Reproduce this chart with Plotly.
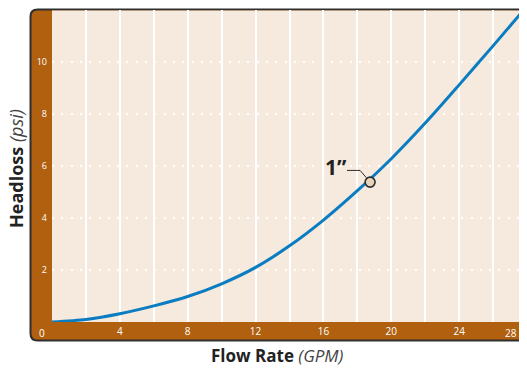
import plotly.graph_objects as go

# readings
flow_gpm = [0, 2, 4, 6, 8, 10, 12, 14, 16, 18, 20, 22, 24, 26, 28]
headloss_psi = [0, 0.1, 0.32, 0.62, 0.98, 1.47, 2.1, 2.93, 3.92, 5.05, 6.28, 7.65, 9.12, 10.62, 12.15]

pipe_label = "1\u201d"
pipe_point_x = [18.75]
pipe_point_y = [5.38]

x_ticks = [4, 8, 12, 16, 20, 24]
y_ticks = [2, 4, 6, 8, 10]

BROWN = "#B0600F"
BEIGE = "#F6E9DD"
BLUE = "#0A7CC2"
DARK = "#2E2E2E"

# the page body has an 8px margin on every side: shrink the figure so the
# page never scrolls, and lay everything out 8px up/left
OFF = 8
W, H = 527 - OFF, 373 - 2 * OFF
L, T = 52 - OFF, 10 - OFF
R = 0
B = H - (322 - OFF)
pw, ph = W - L - R, H - T - B


def px(x):
    # screen pixel -> paper x
    return (x - OFF - L) / pw


def py(y):
    # screen pixel -> paper y
    return (H - B - (y - OFF)) / ph


fig = go.Figure()

fig.add_trace(go.Scatter(
    x=flow_gpm, y=headloss_psi, mode="lines",
    line=dict(color=BLUE, width=3, shape="spline", smoothing=0.8),
    hoverinfo="skip", showlegend=False,
))

# leader from the label to the marker
lead_dx = [-1.36, -0.59, -0.22]
lead_dy = [0.45, 0.45, 0.17]
fig.add_trace(go.Scatter(
    x=[pipe_point_x[0] + d for d in lead_dx],
    y=[pipe_point_y[0] + d for d in lead_dy],
    mode="lines", line=dict(color=DARK, width=1),
    hoverinfo="skip", showlegend=False,
))

fig.add_trace(go.Scatter(
    x=pipe_point_x, y=pipe_point_y, mode="markers",
    marker=dict(size=10, color="#E8D2BA", line=dict(color=DARK, width=1.6)),
    hoverinfo="skip", showlegend=False,
))

# brown frame with rounded left corners
left, right = px(30.5), px(545)
top, bot = py(9.5), py(340.5)
rx, ry = 7 / pw, 7 / ph
frame = (f"M {right},{top} L {left + rx},{top} Q {left},{top} {left},{top - ry} "
         f"L {left},{bot + ry} Q {left},{bot} {left + rx},{bot} L {right},{bot} Z")
fig.add_shape(type="path", path=frame, xref="paper", yref="paper",
              fillcolor=BROWN, line=dict(color=DARK, width=2), layer="below")
fig.add_shape(type="rect", xref="paper", yref="paper", x0=0, x1=1.05, y0=0, y1=py(10.5),
              fillcolor=BEIGE, line=dict(width=0), layer="below")

tick_font = dict(family="Open Sans, sans-serif", size=10, color="white")

fig.update_xaxes(
    range=[0, 28], tickvals=x_ticks, ticks="", showline=False, zeroline=False,
    showgrid=True, gridcolor="white", gridwidth=1.5,
    minor=dict(dtick=2, tick0=0, showgrid=True, gridcolor="white", gridwidth=1.5, ticks=""),
    tickfont=tick_font, ticklabelstandoff=2,
)
fig.update_yaxes(
    range=[0, 12], tickvals=y_ticks, ticks="", showline=False, zeroline=False,
    showgrid=True, gridcolor="white", gridwidth=2, griddash="2px,7.3px",
    tickfont=dict(family="Open Sans, sans-serif", size=9, color="white"),
    ticklabelstandoff=4,
)

annos = [
    dict(x=px(42), y=py(333), text="0", font=tick_font),
    dict(x=px(511), y=py(333), text="28", font=tick_font),
    dict(x=16.72, y=5.97, xref="x", yref="y", text=f"<b>{pipe_label}</b>",
         font=dict(family="Open Sans, sans-serif", size=21, color="#222")),
    dict(x=px(277), y=py(355.5),
         text="<b>Flow Rate</b> <i><span style='color:#444'>(GPM)</span></i>",
         font=dict(family="Open Sans, sans-serif", size=17, color="#222")),
    dict(x=px(16), y=py(169), textangle=-90,
         text="<b>Headloss</b> <i><span style='color:#444'>(psi)</span></i>",
         font=dict(family="Open Sans, sans-serif", size=18, color="#222")),
]
for a in annos:
    a.setdefault("xref", "paper")
    a.setdefault("yref", "paper")
    fig.add_annotation(showarrow=False, xanchor="center", yanchor="middle", **a)

fig.update_layout(
    width=W, height=H, margin=dict(l=L, r=R, t=T, b=B),
    paper_bgcolor="white", plot_bgcolor="rgba(0,0,0,0)",
    showlegend=False,
)

fig.write_html("out.html")
